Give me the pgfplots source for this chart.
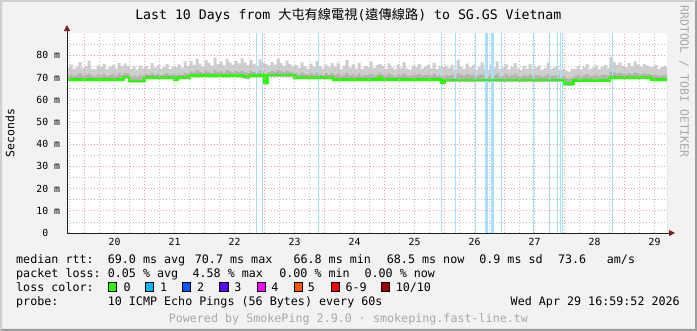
\documentclass[border=0pt]{standalone}
\usepackage{pgfplots}
\pgfplotsset{compat=1.18}
\usepackage{pgfplotstable}
\usetikzlibrary{arrows.meta}
\usepackage{fontspec}
\setmonofont{DejaVu Sans Mono}
\newfontfamily\cjk{Noto Sans CJK TC}
\definecolor{bg}{HTML}{F2F2F2}
\definecolor{shadeA}{HTML}{CFCFCF}
\definecolor{shadeB}{HTML}{9E9E9E}
\definecolor{majgrid}{HTML}{EFA0A0}
\definecolor{mingrid}{HTML}{BEBEBE}
\definecolor{arrowred}{HTML}{801F1F}
\definecolor{axisgray}{HTML}{1F1F1F}
\definecolor{smokelight}{HTML}{CECECE}
\definecolor{smokedark}{HTML}{B2B2B2}
\definecolor{lossbg}{HTML}{A6E0FA}
\definecolor{wm}{HTML}{A8A8A8}
\definecolor{lcA}{HTML}{26FF00}
\definecolor{lcB}{HTML}{00B8FF}
\definecolor{lcC}{HTML}{0059FF}
\definecolor{lcD}{HTML}{5E00FF}
\definecolor{lcE}{HTML}{FF00FF}
\definecolor{lcF}{HTML}{FF5500}
\definecolor{lcG}{HTML}{FF0000}
\definecolor{lcH}{HTML}{A00000}
\newcommand\lf{\fontsize{11.7}{14}\selectfont\ttfamily}

% d = day of April (midnight = integer), med = median rtt (ms), lo/mid/hi = smoke bounds (ms)
\pgfplotstableread{
d med lo mid hi
19.70 69.0 68.2 70.9 74.5
19.75 69.0 68.2 71.4 75.8
19.80 69.0 68.2 70.6 73.9
19.85 69.0 68.2 71.1 74.6
19.90 69.0 68.2 71.9 76.9
19.95 69.0 68.2 70.7 74.2
20.00 69.0 68.2 71.2 75.1
20.05 69.0 68.2 71.8 77.6
20.10 69.0 68.2 70.8 74.0
20.15 69.0 68.2 70.5 73.6
20.20 69.0 68.2 71.3 75.4
20.25 69.0 68.2 70.9 74.8
20.30 69.0 68.2 71.6 76.2
20.35 69.0 68.2 70.6 73.8
20.40 69.0 68.2 71.0 74.9
20.45 69.0 68.2 71.5 75.6
20.50 69.0 68.2 70.7 74.1
20.55 69.0 68.2 71.8 76.5
20.60 69.0 68.2 71.1 75.0
20.65 70.2 69.2 72.0 76.3
20.70 70.2 69.2 71.6 75.2
20.75 68.4 67.7 70.2 73.8
20.80 68.4 67.7 70.8 74.9
20.85 68.4 67.7 70.4 73.5
20.90 68.4 67.7 71.0 75.3
20.95 68.4 67.7 70.5 74.1
21.00 69.9 69.1 71.5 75.2
21.05 69.9 69.1 71.0 73.9
21.10 69.9 69.1 71.9 76.4
21.15 69.9 69.1 71.2 74.3
21.20 69.9 69.1 71.7 75.7
21.25 69.9 69.1 70.9 74.0
21.30 69.9 69.1 71.4 74.8
21.35 69.9 69.1 72.0 76.1
21.40 69.9 69.1 71.1 73.7
21.45 69.9 69.1 71.5 75.0
21.50 69.0 68.3 71.0 74.6
21.55 69.9 69.1 71.6 75.9
21.60 69.9 69.1 71.2 74.4
21.65 69.9 69.1 72.1 77.2
21.70 69.9 69.1 71.4 75.1
21.75 70.8 70.0 72.7 77.5
21.80 70.8 70.0 72.2 75.6
21.85 70.8 70.0 73.3 78.4
21.90 70.8 70.0 72.5 76.2
21.95 70.8 70.0 72.0 74.9
22.00 70.8 70.0 73.0 77.8
22.05 70.8 70.0 72.6 76.6
22.10 70.8 70.0 72.1 75.3
22.15 70.8 70.0 73.5 78.9
22.20 70.8 70.0 72.4 76.0
22.25 70.8 70.0 72.9 77.1
22.30 70.8 70.0 72.1 75.4
22.35 70.8 70.0 73.2 78.2
22.40 70.8 70.0 72.7 76.8
22.45 70.8 70.0 72.3 75.7
22.50 70.8 70.0 72.9 77.4
22.55 70.8 70.0 72.5 76.3
22.60 70.8 70.0 73.1 78.6
22.65 70.2 69.4 72.3 76.8
22.70 70.2 69.4 72.0 75.5
22.75 70.8 70.0 72.8 77.9
22.80 70.8 70.0 72.4 76.1
22.85 70.8 70.0 72.1 75.0
22.90 70.8 70.0 73.0 78.1
22.95 70.8 70.0 72.6 76.5
23.00 67.5 66.6 71.6 76.2
23.05 71.0 70.2 72.4 75.4
23.10 71.0 70.2 72.9 77.0
23.15 71.0 70.2 72.5 75.8
23.20 71.0 70.2 73.3 78.3
23.25 71.0 70.2 72.7 76.4
23.30 71.0 70.2 72.3 75.2
23.35 71.0 70.2 73.0 77.6
23.40 71.0 70.2 72.6 76.0
23.45 71.0 70.2 72.2 74.9
23.50 69.9 69.1 71.8 75.6
23.55 69.9 69.1 71.3 74.3
23.60 69.9 69.1 72.2 76.8
23.65 69.9 69.1 71.5 75.0
23.70 69.9 69.1 71.1 73.9
23.75 69.9 69.1 72.0 76.2
23.80 69.9 69.1 71.4 74.7
23.85 69.9 69.1 72.3 77.3
23.90 69.9 69.1 71.6 75.1
23.95 69.9 69.1 71.2 74.0
24.00 69.9 69.1 71.9 75.8
24.05 69.9 69.1 71.3 74.5
24.10 69.9 69.1 72.1 76.4
24.15 69.0 68.2 71.1 74.8
24.20 69.0 68.2 71.7 76.5
24.25 69.0 68.2 70.7 73.9
24.30 69.0 68.2 71.2 75.3
24.35 69.0 68.2 71.9 77.8
24.40 69.0 68.2 70.9 74.4
24.45 69.0 68.2 71.4 75.9
24.50 69.0 68.2 70.8 74.0
24.55 69.0 68.2 71.8 76.7
24.60 69.0 68.2 70.6 73.8
24.65 69.0 68.2 71.2 75.2
24.70 69.0 68.2 71.0 74.6
24.75 69.0 68.2 71.6 77.1
24.80 69.0 68.2 70.9 74.3
24.85 69.0 68.2 71.3 75.5
24.90 70.3 69.4 72.0 76.0
24.95 69.0 68.2 71.1 75.1
25.00 69.0 68.2 70.7 73.8
25.05 69.0 68.2 71.6 76.3
25.10 69.0 68.2 71.0 74.5
25.15 69.0 68.2 70.5 73.6
25.20 69.0 68.2 71.4 75.8
25.25 69.0 68.2 70.9 74.2
25.30 69.0 68.2 71.8 76.9
25.35 69.0 68.2 70.8 74.0
25.40 69.0 68.2 70.6 73.5
25.45 69.0 68.2 71.2 75.4
25.50 69.0 68.2 71.0 74.7
25.55 69.0 68.2 71.5 76.1
25.60 69.0 68.2 70.7 73.9
25.65 69.0 68.2 71.0 74.8
25.70 69.0 68.2 71.3 75.7
25.75 69.0 68.2 70.8 74.1
25.80 69.0 68.2 71.7 76.6
25.85 69.0 68.2 70.6 73.7
25.90 69.0 68.2 71.1 75.0
25.95 67.6 66.8 70.6 74.6
26.00 68.8 68.0 70.9 75.3
26.05 68.8 68.0 70.8 74.3
26.10 68.8 68.0 71.4 75.8
26.15 68.8 68.0 70.5 73.6
26.20 68.8 68.0 71.8 77.9
26.25 68.8 68.0 71.0 74.8
26.30 68.8 68.0 70.6 73.9
26.35 68.8 68.0 71.5 76.2
26.40 68.8 68.0 70.9 74.5
26.45 68.8 68.0 71.2 75.5
26.50 68.8 68.0 70.4 73.4
26.55 68.8 68.0 71.0 74.9
26.60 68.8 68.0 71.6 76.8
26.65 68.8 68.0 70.7 74.0
26.70 68.8 68.0 70.5 73.5
26.75 68.8 68.0 71.3 75.7
26.80 68.8 68.0 70.9 74.6
26.85 68.8 68.0 71.7 77.2
26.90 68.8 68.0 70.6 73.8
26.95 68.8 68.0 70.8 74.4
27.00 68.8 68.0 71.4 75.9
27.05 68.8 68.0 70.5 73.6
27.10 68.8 68.0 70.9 74.7
27.15 68.8 68.0 71.5 76.4
27.20 68.8 68.0 70.7 74.1
27.25 68.8 68.0 70.4 73.3
27.30 68.8 68.0 71.1 75.2
27.35 68.8 68.0 70.6 74.0
27.40 68.8 68.0 71.4 76.0
27.45 68.8 68.0 70.5 73.7
27.50 68.8 68.0 70.9 74.5
27.55 68.8 68.0 71.2 75.3
27.60 68.8 68.0 70.4 73.4
27.65 68.8 68.0 70.7 74.2
27.70 68.8 68.0 71.5 76.7
27.75 68.8 68.0 70.6 73.9
27.80 68.8 68.0 70.8 74.4
27.85 68.8 68.0 71.1 75.1
27.90 68.8 68.0 70.5 73.5
27.95 68.8 68.0 70.7 74.0
28.00 67.2 66.2 69.6 73.2
28.05 67.2 66.2 69.3 72.6
28.10 67.2 66.2 69.8 73.8
28.15 68.7 67.9 70.6 73.9
28.20 68.7 67.9 71.2 75.1
28.25 68.7 67.9 70.4 73.5
28.30 68.7 67.9 70.9 74.6
28.35 68.7 67.9 71.5 76.0
28.40 68.7 67.9 70.5 73.8
28.45 68.7 67.9 70.8 74.3
28.50 68.7 67.9 71.3 75.4
28.55 68.7 67.9 70.5 73.6
28.60 68.7 67.9 71.0 74.8
28.65 68.7 67.9 71.4 75.7
28.70 68.7 67.9 70.7 74.1
28.75 69.9 69.1 72.5 79.3
28.80 69.9 69.1 72.2 77.0
28.85 69.9 69.1 71.7 75.6
28.90 69.9 69.1 72.1 76.8
28.95 69.9 69.1 71.6 75.2
29.00 69.9 69.1 71.3 74.5
29.05 69.9 69.1 71.9 76.4
29.10 69.9 69.1 71.5 75.0
29.15 69.9 69.1 72.3 77.2
29.20 69.9 69.1 71.8 75.8
29.25 69.9 69.1 71.4 74.6
29.30 69.9 69.1 72.0 76.1
29.35 69.9 69.1 71.6 75.3
29.40 69.9 69.1 71.4 74.8
29.45 69.0 68.2 70.9 74.6
29.50 69.0 68.2 71.3 75.5
29.55 69.0 68.2 70.6 73.9
29.60 69.0 68.2 71.0 74.8
29.65 69.0 68.2 71.2 75.2
29.70 69.0 68.2 70.8 74.4
29.75 69.0 68.2 70.8 74.4
}\smoke

\begin{document}
\begin{tikzpicture}
\useasboundingbox (0,0) rectangle (697pt,331pt);
\fill[bg] (0,0) rectangle (697pt,331pt);
\fill[shadeA] (0,0) -- (0,331pt) -- (697pt,331pt) -- (695pt,329pt) -- (2pt,329pt) -- (2pt,2pt) -- cycle;
\fill[shadeB] (0,0) -- (697pt,0) -- (697pt,331pt) -- (695pt,329pt) -- (695pt,2pt) -- (2pt,2pt) -- cycle;

\begin{axis}[
  at={(67pt,98pt)}, anchor=south west,
  scale only axis, width=600pt, height=200pt,
  xmin=19.70833, xmax=29.70833, ymin=0, ymax=90,
  axis background/.style={fill=white},
  axis on top,
  axis lines*=left,
  axis line style={draw=axisgray, line width=0.9pt, shorten >=-8pt,
    -{Triangle[length=6pt,width=6pt,color=arrowred]}},
  major tick length=0pt, minor tick length=0pt,
  tick label style={font=\fontsize{9.8}{12}\selectfont\ttfamily, text=black},
  xtick={20.5,21.5,22.5,23.5,24.5,25.5,26.5,27.5,28.5,29.5},
  xticklabels={\texttt{20},\texttt{21},\texttt{22},\texttt{23},\texttt{24},\texttt{25},\texttt{26},\texttt{27},\texttt{28},\texttt{29}},
  xticklabel style={yshift=-2pt},
  xmajorgrids=false, xminorgrids=true,
  minor xtick={19.75,20.25,20.5,20.75,21.25,21.5,21.75,22.25,22.5,22.75,23.25,23.5,23.75,24.25,24.5,24.75,25.25,25.5,25.75,26.25,26.5,26.75,27.25,27.5,27.75,28.25,28.5,28.75,29.25,29.5},
  extra x ticks={20,21,22,23,24,25,26,27,28,29},
  extra x tick labels={},
  extra x tick style={xmajorgrids=true},
  ytick={0,10,20,30,40,50,60,70,80},
  yticklabels={\texttt{0\hphantom{ m}},\texttt{10 m},\texttt{20 m},\texttt{30 m},\texttt{40 m},\texttt{50 m},\texttt{60 m},\texttt{70 m},\texttt{80 m}},
  yticklabel style={xshift=-3.5pt},
  minor ytick={5,15,25,35,45,55,65,75,85},
  ymajorgrids=true, yminorgrids=true,
  major grid style={draw=majgrid, dash pattern=on 1pt off 2pt, line width=0.7pt},
  minor grid style={draw=mingrid, dash pattern=on 1pt off 2pt, line width=0.7pt},
]
\addplot[draw=none, fill=smokelight, const plot] table[x=d, y=hi] {\smoke} \closedcycle;
\addplot[draw=none, fill=smokedark, const plot] table[x=d, y=mid] {\smoke} \closedcycle;
\addplot[draw=none, fill=white, const plot] table[x=d, y=lo] {\smoke} \closedcycle;
\addplot[ycomb, no marks, draw=lossbg, line width=1pt] coordinates {
  (22.870,90) (22.963,90) (23.897,90) (25.953,90) (26.187,90) (26.517,90)
  (26.953,90) (27.480,90) (27.758,90) (27.887,90) (27.925,90) (27.970,90) (28.800,90)};
\addplot[ycomb, no marks, draw=lossbg, line width=2.5pt] coordinates {(26.703,90) (26.803,90)};
\addplot[draw=lcA, line width=2.4pt, const plot, no marks] table[x=d, y=med] {\smoke};
\end{axis}

% title
\node[anchor=base, font=\fontsize{13.2}{16}\selectfont\ttfamily] at (348.3pt,311.5pt)
  {Last 10 Days from {\cjk 大屯有線電視}({\cjk 遠傳線路}) to SG.GS Vietnam};
% y label
\node[rotate=90, font=\fontsize{11.5}{14}\selectfont\ttfamily] at (10pt,198pt) {Seconds};
% watermark
\node[rotate=-90, text=wm, font=\fontsize{11.5}{14}\selectfont\ttfamily] at (684pt,249.5pt) {RRDTOOL / TOBI OETIKER};

% legend rows
\begin{scope}[every node/.style={anchor=base west, inner sep=0pt, font=\lf}]
\node at (16pt,67.5pt) {median rtt:};
\node at (107.6pt,67.5pt) {69.0 ms avg};
\node at (194.7pt,67.5pt) {70.7 ms max};
\node at (293.3pt,67.5pt) {66.8 ms min};
\node at (386.7pt,67.5pt) {68.5 ms now};
\node at (479.1pt,67.5pt) {0.9 ms sd};
\node at (557.8pt,67.5pt) {73.6};
\node at (606.7pt,67.5pt) {am/s};

\node at (16pt,53.5pt) {packet loss:};
\node at (107.6pt,53.5pt) {0.05 \% avg};
\node at (192.4pt,53.5pt) {4.58 \% max};
\node at (279.1pt,53.5pt) {0.00 \% min};
\node at (364.4pt,53.5pt) {0.00 \% now};

\node at (16pt,39.8pt) {loss color:};
\node at (123.5pt,39.8pt) {0};
\node at (160pt,39.8pt) {1};
\node at (196.9pt,39.8pt) {2};
\node at (234.2pt,39.8pt) {3};
\node at (271.1pt,39.8pt) {4};
\node at (307.6pt,39.8pt) {5};
\node at (345.3pt,39.8pt) {6-9};
\node at (395.6pt,39.8pt) {10/10};

\node at (16pt,25.8pt) {probe:};
\node at (107.6pt,25.8pt) {10 ICMP Echo Pings (56 Bytes) every 60s};
\node[anchor=base east] at (680pt,25.8pt) {Wed Apr 29 16:59:52 2026};

\node[anchor=base, text=wm] at (348.4pt,8.1pt) {Powered by SmokePing 2.9.0 · smokeping.fast-line.tw};
\end{scope}

% loss colour swatches
\foreach \xx/\cc in {108/lcA,145.3/lcB,182.2/lcC,219.6/lcD,256.9/lcE,294.2/lcF,331.1/lcG,381.3/lcH}{
  \filldraw[fill=\cc, draw=black, line width=0.8pt] (\xx pt,39.5pt) rectangle ++(8.5pt,9pt);
}
\end{tikzpicture}
\end{document}
